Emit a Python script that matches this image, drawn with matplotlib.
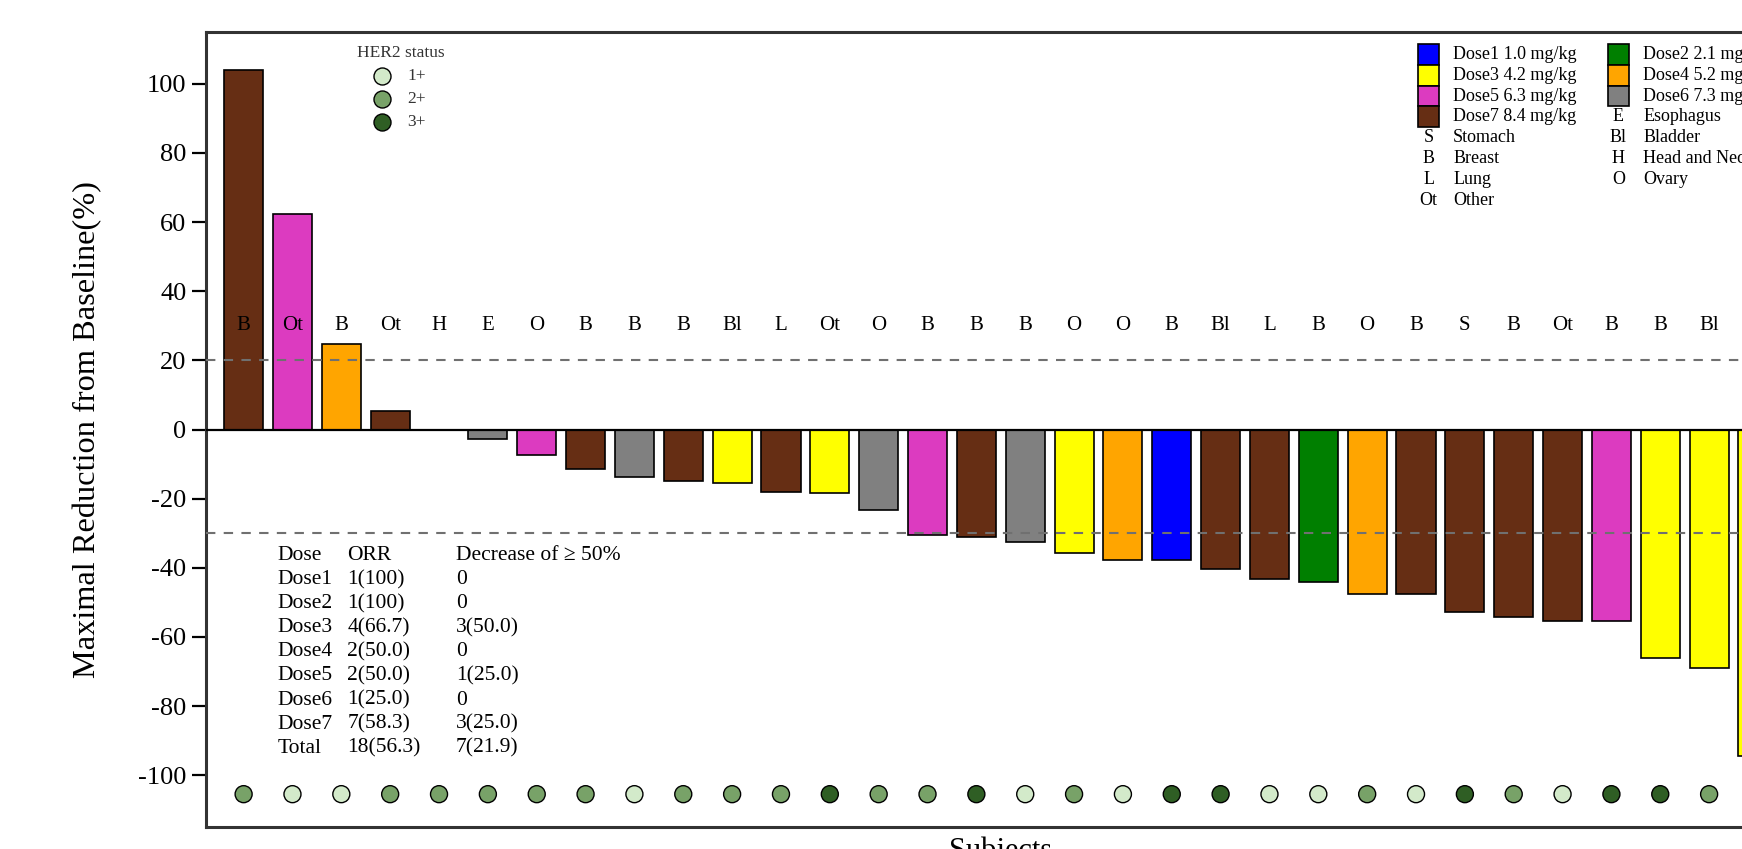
import matplotlib
matplotlib.use("Agg")
import matplotlib.pyplot as plt
from matplotlib.patches import Rectangle

plt.rcParams["font.family"] = ["Liberation Serif", "DejaVu Serif"]
plt.rcParams["axes.unicode_minus"] = False

# ---- per-subject data (sorted by best response) ----
change = [104.0, 62.3, 24.8, 5.4, 0.0, -2.8, -7.4, -11.5, -13.8, -15.0,
          -15.4, -18.0, -18.5, -23.3, -30.6, -31.1, -32.6, -35.6, -37.8, -37.8,
          -40.4, -43.2, -44.1, -47.5, -47.5, -52.8, -54.2, -55.3, -55.5, -66.2,
          -69.0, -94.4]
dose_level = [7, 5, 4, 7, 4, 6, 5, 7, 6, 7, 3, 7, 3, 6, 5, 7, 6, 3, 4, 1,
              7, 7, 2, 4, 7, 7, 7, 7, 5, 3, 3, 3]
tumor_type = ["B", "Ot", "B", "Ot", "H", "E", "O", "B", "B", "B", "Bl", "L",
              "Ot", "O", "B", "B", "B", "O", "O", "B", "Bl", "L", "B", "O",
              "B", "S", "B", "Ot", "B", "B", "Bl", "B"]
her2_status = [2, 1, 1, 2, 2, 2, 2, 2, 1, 2, 2, 2, 3, 2, 2, 3, 1, 2, 1, 3,
               3, 1, 1, 2, 1, 3, 2, 1, 3, 3, 2, 2]

# ---- dose groups ----
dose_labels = ["Dose1 1.0 mg/kg", "Dose2 2.1 mg/kg", "Dose3 4.2 mg/kg",
               "Dose4 5.2 mg/kg", "Dose5 6.3 mg/kg", "Dose6 7.3 mg/kg",
               "Dose7 8.4 mg/kg"]
dose_colors = ["#0000FF", "#007F00", "#FFFF00", "#FFA500", "#DC3BC0",
               "#808080", "#662E14"]

# ---- tumour type codes ----
type_codes_col1 = ["S", "B", "L", "Ot"]
type_names_col1 = ["Stomach", "Breast", "Lung", "Other"]
type_codes_col2 = ["E", "Bl", "H", "O"]
type_names_col2 = ["Esophagus", "Bladder", "Head and Neck", "Ovary"]

# ---- HER2 status ----
her2_labels = ["1+", "2+", "3+"]
her2_colors = ["#D3EACA", "#78A268", "#2F5E24"]

# ---- summary table ----
table_header = ["Dose", "ORR", "Decrease of \u2265 50%"]
table_dose = ["Dose1", "Dose2", "Dose3", "Dose4", "Dose5", "Dose6", "Dose7", "Total"]
table_orr = ["1(100)", "1(100)", "4(66.7)", "2(50.0)", "2(50.0)", "1(25.0)",
             "7(58.3)", "18(56.3)"]
table_dec50 = ["0", "0", "3(50.0)", "0", "1(25.0)", "0", "3(25.0)", "7(21.9)"]

n = len(change)
xpos = list(range(n))

fig = plt.figure(figsize=(17.42, 8.49), dpi=100)
ax = fig.add_axes([0.11826, 0.0259, 0.9125, 0.9364])
ax.set_xlim(-0.77, n - 0.23)
ax.set_ylim(-115, 115)

# bars
bar_colors = [dose_colors[d - 1] for d in dose_level]
ax.bar(xpos, change, width=0.8, color=bar_colors, edgecolor="black",
       linewidth=1.2, zorder=2)

# reference lines
ax.axhline(0, color="black", linewidth=1.6, zorder=3)
for yref in (20, -30):
    ax.axhline(yref, color="#707070", linewidth=1.5, dashes=(4.5, 4), zorder=4)

# tumour type codes above the bars
for x, t in zip(xpos, tumor_type):
    ax.text(x, 30, t, ha="center", va="center", fontsize=15, zorder=5)

# HER2 status dots along the bottom
ax.scatter(xpos, [-105.5] * n, s=150,
           c=[her2_colors[h - 1] for h in her2_status],
           edgecolors="black", linewidths=1.0, zorder=5)

# HER2 status key
ax.text(3.21, 108.8, "HER2 status", ha="center", va="center", fontsize=12.5,
        color="#333333")
for k, (lab, col) in enumerate(zip(her2_labels, her2_colors)):
    yy = 102.2 - 6.6 * k
    ax.scatter([2.84], [yy], s=150, c=[col], edgecolors="black",
               linewidths=1.0, zorder=5)
    ax.text(3.35, yy, lab, ha="left", va="center", fontsize=12.5,
            color="#333333")

# dose / tumour type key
row0, rstep = 108.5, 6.02
sq_w = 0.42
col_sq = [24.05, 27.93]
col_txt = [24.76, 28.65]
col1_doses = [0, 2, 4, 6]
col2_doses = [1, 3, 5]
for col, doses in enumerate((col1_doses, col2_doses)):
    for r, d in enumerate(doses):
        yc = row0 - rstep * r
        ax.add_patch(Rectangle((col_sq[col], yc - rstep / 2), sq_w, rstep,
                               facecolor=dose_colors[d], edgecolor="black",
                               linewidth=1.2, zorder=5))
        ax.text(col_txt[col], yc, dose_labels[d], ha="left", va="center",
                fontsize=13)
for col, (codes, names, start) in enumerate(
        ((type_codes_col1, type_names_col1, 4),
         (type_codes_col2, type_names_col2, 3))):
    for r, (c, nm) in enumerate(zip(codes, names)):
        yc = row0 - rstep * (start + r)
        ax.text(col_sq[col] + sq_w / 2, yc, c, ha="center", va="center",
                fontsize=13)
        ax.text(col_txt[col], yc, nm, ha="left", va="center", fontsize=13)

# response summary table
tab_x = [0.70, 2.12, 4.35]
tab_y0, tab_step = -36.4, 6.98
for j, h in enumerate(table_header):
    ax.text(tab_x[j], tab_y0, h, ha="left", va="center", fontsize=15.5)
for i, (d, o, dd) in enumerate(zip(table_dose, table_orr, table_dec50)):
    yy = tab_y0 - tab_step * (i + 1)
    ax.text(tab_x[0], yy, d, ha="left", va="center", fontsize=15.5)
    ax.text(tab_x[1], yy, o, ha="left", va="center", fontsize=15.5)
    ax.text(tab_x[2], yy, dd, ha="left", va="center", fontsize=15.5)

# axes styling
ax.set_yticks(range(-100, 101, 20))
ax.set_xticks([])
ax.tick_params(axis="y", direction="out", length=10, width=1.6,
               labelsize=19, pad=4)
for side in ("left", "top", "bottom", "right"):
    ax.spines[side].set_linewidth(2.2)
    ax.spines[side].set_color("#333333")

ax.set_ylabel("Maximal Reduction from Baseline(%)", fontsize=23.3)
ax.yaxis.set_label_coords(-0.065, 0.5)
ax.set_xlabel("Subjects", fontsize=22, labelpad=7)

fig.savefig("out.png", dpi=100)
